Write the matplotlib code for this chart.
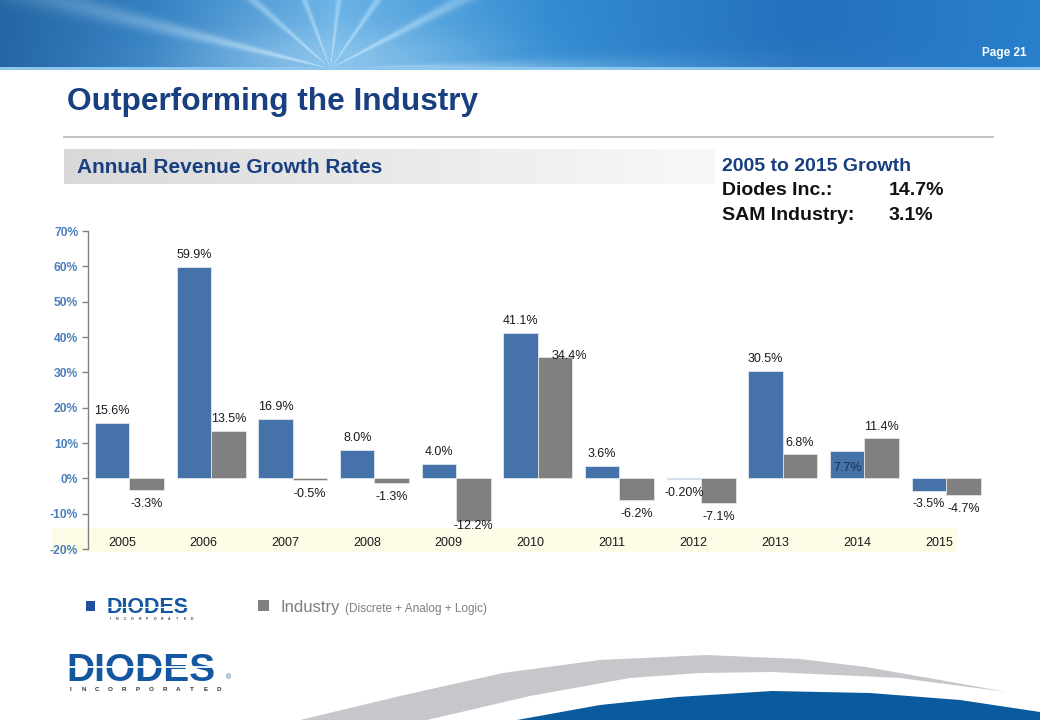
import numpy as np
import matplotlib
matplotlib.use('Agg')
import matplotlib.pyplot as plt
from matplotlib.patches import Rectangle, Polygon

plt.rcParams['font.family'] = ['Liberation Sans', 'DejaVu Sans']

# ---------------- data ----------------
years = ['2005', '2006', '2007', '2008', '2009', '2010', '2011', '2012', '2013', '2014', '2015']
diodes = [15.6, 59.9, 16.9, 8.0, 4.0, 41.1, 3.6, -0.20, 30.5, 7.7, -3.5]
industry = [-3.3, 13.5, -0.5, -1.3, -12.2, 34.4, -6.2, -7.1, 6.8, 11.4, -4.7]
diodes_labels = ['15.6%', '59.9%', '16.9%', '8.0%', '4.0%', '41.1%', '3.6%', '-0.20%', '30.5%', '7.7%', '-3.5%']
industry_labels = ['-3.3%', '13.5%', '-0.5%', '-1.3%', '-12.2%', '34.4%', '-6.2%', '-7.1%', '6.8%', '11.4%', '-4.7%']
yticks = [-20, -10, 0, 10, 20, 30, 40, 50, 60, 70]
ytick_labels = ['-20%', '-10%', '0%', '10%', '20%', '30%', '40%', '50%', '60%', '70%']
summary_title = '2005 to 2015 Growth'
summary_names = ['Diodes Inc.:', 'SAM Industry:']
summary_values = ['14.7%', '3.1%']

BLUE = '#4573A9'
GRAY = '#808080'
NAVY = '#183F80'
TXT = '#1a1a1a'
LOGO = '#1457A0'

W, H = 1040, 720
fig = plt.figure(figsize=(W / 100, H / 100), dpi=100)

# ---------------- background / decoration axes (pixel coords) ----------------
bg = fig.add_axes([0, 0, 1, 1], zorder=0)
bg.set_xlim(0, W)
bg.set_ylim(H, 0)
bg.axis('off')

# header banner
hh = 70
xx, yy = np.meshgrid(np.arange(W), np.arange(hh))
stops_x = [0, 150, 330, 550, 800, 1040]
stops_c = np.array([(0.14, 0.40, 0.64), (0.20, 0.50, 0.76), (0.42, 0.70, 0.90),
                    (0.20, 0.55, 0.82), (0.14, 0.44, 0.74), (0.16, 0.50, 0.80)])
img = np.zeros((hh, W, 3))
for k in range(3):
    img[:, :, k] = np.interp(xx, stops_x, stops_c[:, k])
theta = np.arctan2(yy - 68.0, xx - 330.0)
ray = (0.5 + 0.5 * np.cos(theta * 13)) ** 14
fall = np.exp(-((xx - 330) / 320.0) ** 2)
glow = np.exp(-(((xx - 330) / 160.0) ** 2 + ((yy - 62) / 35.0) ** 2))
amt = np.clip(0.40 * ray * fall + 0.30 * glow, 0, 1)[:, :, None]
img = img * (1 - amt) + amt * np.array([0.85, 0.95, 1.0])
img[67:, :, :] = np.array([0.55, 0.78, 0.94])
bg.imshow(img, extent=(0, W, hh, 0), aspect='auto', interpolation='bilinear', zorder=0)
bg.text(1004, 53, 'Page 21', color='white', fontsize=8.5, fontweight='bold',
        ha='center', va='center', zorder=2)

# title + rule
bg.text(67, 110, 'Outperforming the Industry', fontsize=22.8, fontweight='bold',
        color=NAVY, ha='left', va='baseline')
bg.plot([64, 993], [136.5, 136.5], color='#c3c3c3', lw=1.4)

# subtitle box with fade
grad = np.linspace(0, 1, 300)[None, :]
box = np.zeros((1, 300, 3))
for k in range(3):
    box[:, :, k] = 0.85 + (0.975 - 0.85) * grad
bg.imshow(box, extent=(64, 715, 184, 149), aspect='auto', zorder=1)
bg.text(77, 173, 'Annual Revenue Growth Rates', fontsize=15, fontweight='bold',
        color=NAVY, ha='left', va='baseline', zorder=2)

# summary text
bg.text(722, 171, summary_title, fontsize=14, fontweight='bold', color=NAVY,
        ha='left', va='baseline')
for k, (nm, vl) in enumerate(zip(summary_names, summary_values)):
    yb = 195 + 24.5 * k
    bg.text(722, yb, nm, fontsize=14, fontweight='bold', color='#111111', ha='left', va='baseline')
    bg.text(889, yb, vl, fontsize=14, fontweight='bold', color='#111111', ha='left', va='baseline')

# pale category band
bg.add_patch(Rectangle((52, 528), 905, 24, facecolor='#fdfde7', edgecolor='none', zorder=1))

# legend
bg.add_patch(Rectangle((86, 601), 9, 10, facecolor='#1f4e9c', edgecolor='none'))
bg.text(107, 613, 'DIODES', fontsize=15.5, fontweight='heavy', color=LOGO,
        ha='left', va='baseline', zorder=3)
bg.plot([107, 190], [606.5, 606.5], color='white', lw=0.8, zorder=5)
for k, ch in enumerate('INCORPORATED'):
    bg.text(np.linspace(110, 192, 12)[k], 618.5, ch, fontsize=2.5, color='#444444',
            ha='center', va='center', fontweight='bold')
bg.add_patch(Rectangle((258, 600), 11, 11, facecolor='#808080', edgecolor='none'))
bg.text(280, 612, 'Industry', fontsize=12, color='#7f7f7f', ha='left', va='baseline')
bg.text(345, 612, '(Discrete + Analog + Logic)', fontsize=8.5, color='#7f7f7f',
        ha='left', va='baseline')

# big logo
bg.text(66, 681, 'DIODES', fontsize=28, fontweight='heavy', color=LOGO,
        ha='left', va='baseline', zorder=3)
bg.plot([68, 218], [667, 667], color='white', lw=1.3, zorder=5)
for k, ch in enumerate('INCORPORATED'):
    bg.text(np.linspace(70, 219, 12)[k], 689.5, ch, fontsize=4.5, color='#333333',
            ha='center', va='center', fontweight='bold')
bg.text(228, 678, '\u00ae', fontsize=5, color=LOGO, ha='center', va='center')

# bottom swooshes
gray_sw = [(300, 720), (400, 696), (503, 673), (600, 660), (706, 655), (800, 659),
           (866, 667), (940, 680), (1007, 692), (900, 678), (772, 672), (700, 673),
           (630, 678), (530, 696), (427, 720)]
bg.add_patch(Polygon(gray_sw, closed=True, facecolor='#c5c7ca', edgecolor='none'))
blue_sw = [(517, 720), (600, 705), (677, 697), (772, 691), (870, 693), (960, 700),
           (1040, 712), (1040, 720)]
bg.add_patch(Polygon(blue_sw, closed=True, facecolor='#0a5a9e', edgecolor='none'))

# ---------------- chart axes ----------------
left_px, right_px, top_px, bot_px = 88, 987, 231, 549
ax = fig.add_axes([left_px / W, (H - bot_px) / H, (right_px - left_px) / W,
                   (bot_px - top_px) / H], zorder=2)
ax.patch.set_alpha(0)

x = np.arange(len(years))
bw = 0.422
ax.bar(x - bw / 2, diodes, bw, color=BLUE, edgecolor='#dfe7f1', linewidth=0.6, zorder=3)
ax.bar(x + bw / 2, industry, bw, color=GRAY, edgecolor='#e4e4e4', linewidth=0.6, zorder=3)

ax.set_xlim(-0.508, 10.5)
ax.set_ylim(-20, 70)
ax.set_yticks(yticks)
ax.set_yticklabels(ytick_labels)
ax.set_xticks([])
for s in ['top', 'right', 'bottom']:
    ax.spines[s].set_visible(False)
ax.spines['left'].set_color('#808080')
ax.spines['left'].set_linewidth(1.0)
ax.tick_params(axis='y', length=4, width=1, color='#808080', pad=3,
               labelsize=8.7, labelcolor='#4A7EBB')
for t in ax.get_yticklabels():
    t.set_fontweight('bold')

# data labels
for i in range(len(years)):
    # Diodes
    v = diodes[i]
    xd = x[i] - bw / 2
    if i == 9:
        yl = v - 4.9
        col = '#1c2d4f'
    else:
        yl = v + 3.4 if v >= 0 else v - 3.9
        col = TXT
    ax.text(xd, yl, diodes_labels[i], ha='center', va='center', fontsize=9, color=col, zorder=4)
    # Industry
    v = industry[i]
    xi = x[i] + bw / 2
    if i == 5:
        xi += 0.18
        yl = v + 0.2
    elif v >= 0:
        yl = v + 3.2
    else:
        yl = max(v - 3.9, -13.6)
    ax.text(xi, yl, industry_labels[i], ha='center', va='center', fontsize=9, color=TXT, zorder=4)

for i, yr in enumerate(years):
    ax.text(x[i] - 0.09, -18.4, yr, ha='center', va='center', fontsize=9, color=TXT, zorder=4)

fig.savefig('out.png', dpi=100)
